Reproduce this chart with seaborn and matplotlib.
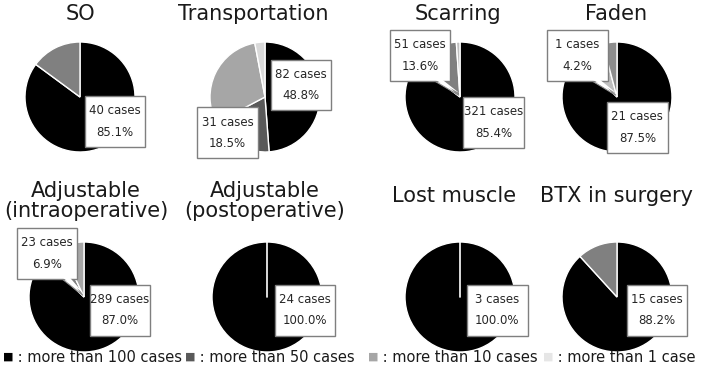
import matplotlib
matplotlib.use('Agg')
import matplotlib.pyplot as plt
from matplotlib.patches import Rectangle, Polygon
import seaborn as sns

sns.set_style('white')
plt.rcParams['font.family'] = ['DejaVu Sans']

# number of cases per slice, ordered clockwise from 12 o'clock
titles = ['SO', 'Transportation', 'Scarring', 'Faden',
          'Adjustable\n(intraoperative)', 'Adjustable\n(postoperative)',
          'Lost muscle', 'BTX in surgery']
so_cases = [40, 7]
transport_cases = [82, 31, 50, 5]
scarring_cases = [321, 51, 4]
faden_cases = [21, 2, 1]
adj_intra_cases = [289, 20, 23]
adj_post_cases = [24]
lost_muscle_cases = [3]
btx_cases = [15, 2]
all_cases = [so_cases, transport_cases, scarring_cases, faden_cases,
             adj_intra_cases, adj_post_cases, lost_muscle_cases, btx_cases]

# which slices get a label box
labeled = [[0], [0, 1], [0, 1], [0, 2], [0, 2], [0], [0], [0]]

legend_labels = ['more than 100 cases', 'more than 50 cases',
                 'more than 10 cases', 'more than 1 case']

# styles
legend_colors = ['#000000', '#595959', '#a6a6a6', '#e6e6e6']
slice_colors = [
    ['#000000', '#808080'],
    ['#000000', '#595959', '#a6a6a6', '#d9d9d9'],
    ['#000000', '#808080', '#bfbfbf'],
    ['#000000', '#bfbfbf', '#8c8c8c'],
    ['#000000', '#808080', '#a6a6a6'],
    ['#000000'],
    ['#000000'],
    ['#000000', '#808080'],
]
# pie centres in pixels
centers = [(80, 97), (265, 97), (460, 97), (617, 97),
           (84, 297), (267, 297), (460, 297), (617, 297)]
title_pos = [(80, 14), (253, 14), (458, 14), (616, 14),
             (86, 201), (265, 201), (454, 196), (616, 196)]
# label box centres, in pie radius units
box_pos = [[(0.64, -0.45)],
           [(0.65, 0.22), (-0.68, -0.65)],
           [(0.61, -0.46), (-0.73, 0.75)],
           [(0.37, -0.55), (-0.72, 0.75)],
           [(0.65, -0.24), (-0.67, 0.79)],
           [(0.69, -0.24)],
           [(0.68, -0.24)],
           [(0.73, -0.24)]]
callout = [False, False, True, True, True, False, False, False]

W, H = 702, 369
R = 55
BW, BH = 1.1, 0.92
fig = plt.figure(figsize=(W / 100, H / 100), dpi=100)

for i, cases in enumerate(all_cases):
    cx, cy = centers[i]
    ax = fig.add_axes([(cx - R) / W, (H - cy - R) / H, 2 * R / W, 2 * R / H])
    ax.pie(cases, colors=slice_colors[i], startangle=90, counterclock=False,
           wedgeprops=dict(edgecolor='white', linewidth=1))
    if len(cases) == 1:
        ax.plot([0, 0], [0, 1], color='white', lw=1.2, zorder=2)
    ax.set_xlim(-1, 1)
    ax.set_ylim(-1, 1)
    ax.set_aspect('equal')
    ax.axis('off')

    total = sum(cases)
    for k, j in enumerate(labeled[i]):
        bx, by = box_pos[i][k]
        x0, y0 = bx - BW / 2, by - BH / 2
        if callout[i] and j != 0:
            tri = [(x0 + BW - 0.28, y0), (x0 + BW - 0.12, y0), (-0.02, 0.03)]
            ax.add_patch(Polygon(tri, closed=True, facecolor='white', edgecolor='#8c8c8c',
                                 lw=0.8, zorder=3, clip_on=False))
        ax.add_patch(Rectangle((x0, y0), BW, BH, facecolor='white', edgecolor='#7f7f7f',
                               lw=1, zorder=4, clip_on=False))
        if callout[i] and j != 0:
            tri = [(x0 + BW - 0.265, y0 + 0.02), (x0 + BW - 0.135, y0 + 0.02), (-0.01, 0.07)]
            ax.add_patch(Polygon(tri, closed=True, facecolor='white', edgecolor='none',
                                 zorder=5, clip_on=False))
        ax.text(bx, by, f'{cases[j]} cases\n{100 * cases[j] / total:.1f}%',
                ha='center', va='center', fontsize=8.5, linespacing=1.85,
                color='#262626', zorder=6, clip_on=False)

for i, t in enumerate(titles):
    tx, ty = title_pos[i]
    fig.text(tx / W, 1 - ty / H, t, ha='center', va='center', fontsize=15,
             color='#1a1a1a', linespacing=1.0)

legend_x = [3, 185, 368, 543]
for c, lab, lx in zip(legend_colors, legend_labels, legend_x):
    fig.text(lx / W, 1 - 357 / H, '■', color=c, fontsize=8, ha='left', va='center')
    fig.text((lx + 10) / W, 1 - 357 / H, ' : ' + lab, color='#1a1a1a', fontsize=10.5,
             ha='left', va='center')

fig.savefig('out.png', dpi=100)
